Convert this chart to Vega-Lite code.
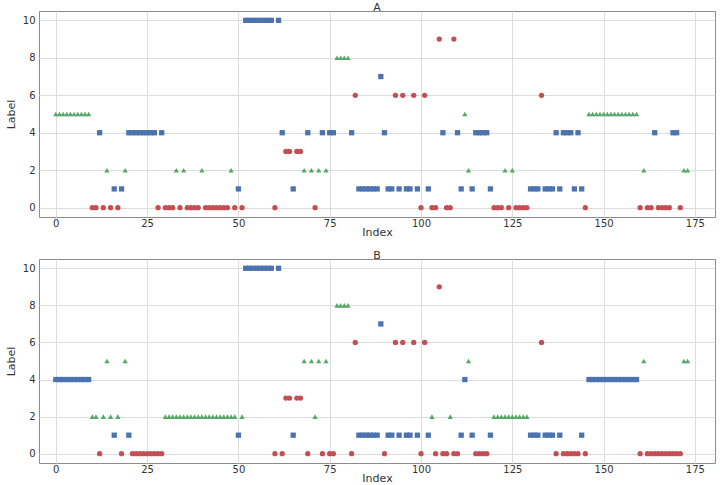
{
  "$schema": "https://vega.github.io/schema/vega-lite/v6.json",
  "padding": {"left": 4, "top": 1, "right": 4, "bottom": 0},
  "spacing": 11,
  "config": {
    "font": "DejaVu Sans",
    "view": {"stroke": "#8c8c8c", "strokeWidth": 1},
    "axis": {"grid": true, "gridColor": "#dcdcdc", "gridWidth": 1, "domain": false, "ticks": false, "labelFontSize": 10, "labelColor": "#333333", "titleFontSize": 11, "titleFontWeight": "normal", "titleColor": "#333333", "labelFlush": false},
    "axisX": {"labelPadding": 1, "titlePadding": -2},
    "axisY": {"labelPadding": 4, "titlePadding": 6},
    "title": {"fontSize": 11, "fontWeight": "normal", "color": "#333333", "offset": -2}
  },
  "data": {"values": [
    {"i":0,"A":5,"B":4},{"i":1,"A":5,"B":4},{"i":2,"A":5,"B":4},{"i":3,"A":5,"B":4},{"i":4,"A":5,"B":4},
    {"i":5,"A":5,"B":4},{"i":6,"A":5,"B":4},{"i":7,"A":5,"B":4},{"i":8,"A":5,"B":4},{"i":9,"A":5,"B":4},
    {"i":10,"A":0,"B":2},{"i":11,"A":0,"B":2},{"i":12,"A":4,"B":0},{"i":13,"A":0,"B":2},{"i":14,"A":2,"B":5},
    {"i":15,"A":0,"B":2},{"i":16,"A":1,"B":1},{"i":17,"A":0,"B":2},{"i":18,"A":1,"B":0},{"i":19,"A":2,"B":5},
    {"i":20,"A":4,"B":1},{"i":21,"A":4,"B":0},{"i":22,"A":4,"B":0},{"i":23,"A":4,"B":0},{"i":24,"A":4,"B":0},
    {"i":25,"A":4,"B":0},{"i":26,"A":4,"B":0},{"i":27,"A":4,"B":0},{"i":28,"A":0,"B":0},{"i":29,"A":4,"B":0},
    {"i":30,"A":0,"B":2},{"i":31,"A":0,"B":2},{"i":32,"A":0,"B":2},{"i":33,"A":2,"B":2},{"i":34,"A":0,"B":2},
    {"i":35,"A":2,"B":2},{"i":36,"A":0,"B":2},{"i":37,"A":0,"B":2},{"i":38,"A":0,"B":2},{"i":39,"A":0,"B":2},
    {"i":40,"A":2,"B":2},{"i":41,"A":0,"B":2},{"i":42,"A":0,"B":2},{"i":43,"A":0,"B":2},{"i":44,"A":0,"B":2},
    {"i":45,"A":0,"B":2},{"i":46,"A":0,"B":2},{"i":47,"A":0,"B":2},{"i":48,"A":2,"B":2},{"i":49,"A":0,"B":2},
    {"i":50,"A":1,"B":1},{"i":51,"A":0,"B":2},{"i":52,"A":10,"B":10},{"i":53,"A":10,"B":10},{"i":54,"A":10,"B":10},
    {"i":55,"A":10,"B":10},{"i":56,"A":10,"B":10},{"i":57,"A":10,"B":10},{"i":58,"A":10,"B":10},{"i":59,"A":10,"B":10},
    {"i":60,"A":0,"B":0},{"i":61,"A":10,"B":10},{"i":62,"A":4,"B":0},{"i":63,"A":3,"B":3},{"i":64,"A":3,"B":3},
    {"i":65,"A":1,"B":1},{"i":66,"A":3,"B":3},{"i":67,"A":3,"B":3},{"i":68,"A":2,"B":5},{"i":69,"A":4,"B":0},
    {"i":70,"A":2,"B":5},{"i":71,"A":0,"B":2},{"i":72,"A":2,"B":5},{"i":73,"A":4,"B":0},{"i":74,"A":2,"B":5},
    {"i":75,"A":4,"B":0},{"i":76,"A":4,"B":0},{"i":77,"A":8,"B":8},{"i":78,"A":8,"B":8},{"i":79,"A":8,"B":8},
    {"i":80,"A":8,"B":8},{"i":81,"A":4,"B":0},{"i":82,"A":6,"B":6},{"i":83,"A":1,"B":1},{"i":84,"A":1,"B":1},
    {"i":85,"A":1,"B":1},{"i":86,"A":1,"B":1},{"i":87,"A":1,"B":1},{"i":88,"A":1,"B":1},{"i":89,"A":7,"B":7},
    {"i":90,"A":4,"B":0},{"i":91,"A":1,"B":1},{"i":92,"A":1,"B":1},{"i":93,"A":6,"B":6},{"i":94,"A":1,"B":1},
    {"i":95,"A":6,"B":6},{"i":96,"A":1,"B":1},{"i":97,"A":1,"B":1},{"i":98,"A":6,"B":6},{"i":99,"A":1,"B":1},
    {"i":100,"A":0,"B":0},{"i":101,"A":6,"B":6},{"i":102,"A":1,"B":1},{"i":103,"A":0,"B":2},{"i":104,"A":0,"B":0},
    {"i":105,"A":9,"B":9},{"i":106,"A":4,"B":0},{"i":107,"A":0,"B":0},{"i":108,"A":0,"B":2},{"i":109,"A":9,"B":0},
    {"i":110,"A":4,"B":0},{"i":111,"A":1,"B":1},{"i":112,"A":5,"B":4},{"i":113,"A":2,"B":5},{"i":114,"A":1,"B":1},
    {"i":115,"A":4,"B":0},{"i":116,"A":4,"B":0},{"i":117,"A":4,"B":0},{"i":118,"A":4,"B":0},{"i":119,"A":1,"B":1},
    {"i":120,"A":0,"B":2},{"i":121,"A":0,"B":2},{"i":122,"A":0,"B":2},{"i":123,"A":2,"B":2},{"i":124,"A":0,"B":2},
    {"i":125,"A":2,"B":2},{"i":126,"A":0,"B":2},{"i":127,"A":0,"B":2},{"i":128,"A":0,"B":2},{"i":129,"A":0,"B":2},
    {"i":130,"A":1,"B":1},{"i":131,"A":1,"B":1},{"i":132,"A":1,"B":1},{"i":133,"A":6,"B":6},{"i":134,"A":1,"B":1},
    {"i":135,"A":1,"B":1},{"i":136,"A":1,"B":1},{"i":137,"A":4,"B":0},{"i":138,"A":1,"B":1},{"i":139,"A":4,"B":0},
    {"i":140,"A":4,"B":0},{"i":141,"A":4,"B":0},{"i":142,"A":1,"B":0},{"i":143,"A":4,"B":0},{"i":144,"A":1,"B":1},
    {"i":145,"A":0,"B":0},{"i":146,"A":5,"B":4},{"i":147,"A":5,"B":4},{"i":148,"A":5,"B":4},{"i":149,"A":5,"B":4},
    {"i":150,"A":5,"B":4},{"i":151,"A":5,"B":4},{"i":152,"A":5,"B":4},{"i":153,"A":5,"B":4},{"i":154,"A":5,"B":4},
    {"i":155,"A":5,"B":4},{"i":156,"A":5,"B":4},{"i":157,"A":5,"B":4},{"i":158,"A":5,"B":4},{"i":159,"A":5,"B":4},
    {"i":160,"A":0,"B":0},{"i":161,"A":2,"B":5},{"i":162,"A":0,"B":0},{"i":163,"A":0,"B":0},{"i":164,"A":4,"B":0},
    {"i":165,"A":0,"B":0},{"i":166,"A":0,"B":0},{"i":167,"A":0,"B":0},{"i":168,"A":0,"B":0},{"i":169,"A":4,"B":0},
    {"i":170,"A":4,"B":0},{"i":171,"A":0,"B":0},{"i":172,"A":2,"B":5},{"i":173,"A":2,"B":5}
  ]},
  "vconcat": [
    {
      "title": "A",
      "width": 676,
      "height": 206,
      "mark": {"type": "point", "filled": true, "opacity": 1, "size": 28},
      "encoding": {
        "x": {"field": "i", "type": "quantitative", "title": "Index", "scale": {"domain": [-4.6, 180.5], "nice": false, "zero": false}, "axis": {"values": [0, 25, 50, 75, 100, 125, 150, 175]}},
        "y": {"field": "A", "type": "quantitative", "title": "Label", "scale": {"domain": [-0.5, 10.5], "nice": false}, "axis": {"values": [0, 2, 4, 6, 8, 10]}},
        "color": {"field": "A", "type": "nominal", "legend": null, "scale": {"domain": [0, 1, 2, 3, 4, 5, 6, 7, 8, 9, 10], "range": ["#C44E52", "#4C72B0", "#55A868", "#C44E52", "#4C72B0", "#55A868", "#C44E52", "#4C72B0", "#55A868", "#C44E52", "#4C72B0"]}},
        "shape": {"field": "A", "type": "nominal", "legend": null, "scale": {"domain": [0, 1, 2, 3, 4, 5, 6, 7, 8, 9, 10], "range": ["circle", "square", "triangle-up", "circle", "square", "triangle-up", "circle", "square", "triangle-up", "circle", "square"]}}
      }
    },
    {
      "title": "B",
      "width": 676,
      "height": 204,
      "mark": {"type": "point", "filled": true, "opacity": 1, "size": 28},
      "encoding": {
        "x": {"field": "i", "type": "quantitative", "title": "Index", "scale": {"domain": [-4.6, 180.5], "nice": false, "zero": false}, "axis": {"values": [0, 25, 50, 75, 100, 125, 150, 175]}},
        "y": {"field": "B", "type": "quantitative", "title": "Label", "scale": {"domain": [-0.5, 10.5], "nice": false}, "axis": {"values": [0, 2, 4, 6, 8, 10]}},
        "color": {"field": "B", "type": "nominal", "legend": null, "scale": {"domain": [0, 1, 2, 3, 4, 5, 6, 7, 8, 9, 10], "range": ["#C44E52", "#4C72B0", "#55A868", "#C44E52", "#4C72B0", "#55A868", "#C44E52", "#4C72B0", "#55A868", "#C44E52", "#4C72B0"]}},
        "shape": {"field": "B", "type": "nominal", "legend": null, "scale": {"domain": [0, 1, 2, 3, 4, 5, 6, 7, 8, 9, 10], "range": ["circle", "square", "triangle-up", "circle", "square", "triangle-up", "circle", "square", "triangle-up", "circle", "square"]}}
      }
    }
  ]
}
